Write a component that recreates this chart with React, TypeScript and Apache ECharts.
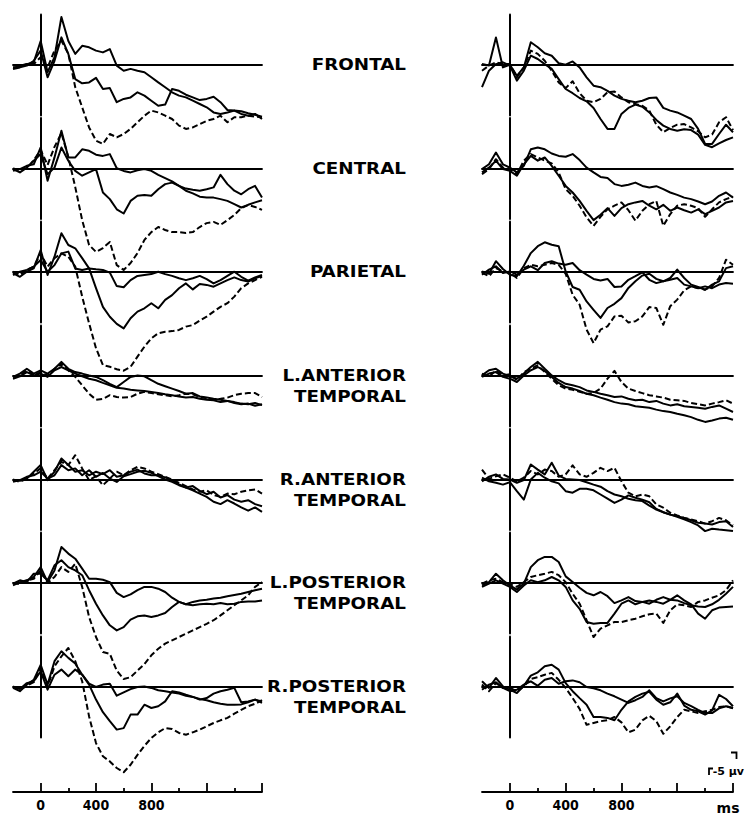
import React, { useEffect, useRef } from "react";
import * as echarts from "echarts";

// ---- time axis (ms) ----
const TIMES = [-200, -150, -100, -50, 0, 50, 100, 150, 200, 250, 300, 350, 400, 450, 500, 550, 600, 650, 700, 750, 800, 850, 900, 950, 1000, 1050, 1100, 1150, 1200, 1250, 1300, 1350, 1400, 1450, 1500, 1550, 1600];
const X_MAJOR_TICKS = [0, 400, 800, 1200, 1600];
const X_MINOR_TICKS = [200, 600, 1000, 1400];
const X_TICK_LABELS = [0, 400, 800];

const REGION_LABELS = [
  ["FRONTAL"],
  ["CENTRAL"],
  ["PARIETAL"],
  ["L.ANTERIOR", "TEMPORAL"],
  ["R.ANTERIOR", "TEMPORAL"],
  ["L.POSTERIOR", "TEMPORAL"],
  ["R.POSTERIOR", "TEMPORAL"],
];

// ---- amplitudes in µV (negative plotted up) : left column ----
const FRONTAL_L_S1 = [0.8, 0.5, -0.3, -0.9, -8, 2.4, -2.6, -16, -8, -3.7, -6.4, -5.9, -4.8, -4.2, -5.3, 0.2, 1.9, 1.3, 1.9, 2.4, 4.1, 5.8, 7.4, 9.1, 10.2, 10.8, 11.9, 13, 14.1, 15.8, 16.3, 15.8, 15.2, 16.3, 16.9, 16.3, 18];
const FRONTAL_L_S2 = [1.3, 0.8, 0.2, -1.4, -4.8, 4.1, -1.4, -9.2, -3.7, 4.7, 6.1, 5.8, 4.3, 8, 7.7, 12.4, 11.3, 10.8, 9.1, 10.2, 11.9, 13.6, 13.2, 8, 8.6, 9.9, 10.8, 11.7, 11.3, 10.6, 12.4, 15, 15.2, 15.4, 16.1, 16.6, 17.2];
const FRONTAL_L_D = [0.2, 0.2, -0.3, -0.3, -2.6, 0.8, -4.8, -8.1, -3.7, 7.4, 14.1, 20.8, 25.2, 26.3, 23, 24.1, 23, 21.3, 19.1, 16.9, 15.2, 15.8, 16.9, 18, 20.2, 21.3, 20.8, 19.7, 18.6, 18, 16.9, 19.1, 17.4, 17.4, 16.9, 17.2, 17.4];

const CENTRAL_L_S1 = [0.8, 0.2, -0.9, -1.4, -7, 4.1, -3.7, -12.6, -3.7, -3.7, -6.4, -5.9, -4.6, -4.2, -4.8, -0.1, 0.8, 1.3, 0.6, 0.2, 0.8, 2.1, 3.2, 4.3, 5.8, 6.7, 7.1, 7.4, 6.9, 6.3, 2.1, 5.2, 7.4, 8.6, 6.9, 5.8, 9.7];
const CENTRAL_L_S2 = [0.2, 1.3, -0.3, -2.6, -4.8, 1.9, -0.3, -7, -2.6, 0.8, 2.4, 1.3, 0.2, 8, 10.2, 13.6, 15, 10.8, 9.1, 8.8, 9.1, 6.9, 5.2, 4.7, 5.8, 7.4, 8.3, 9.4, 9.7, 9.7, 10.2, 10.8, 11.9, 13, 12.1, 11.3, 10.6];
const CENTRAL_L_D = [0, 0.5, 0, -2.8, -6.2, -1.2, -7.2, -11.8, -3.8, 6.2, 17.2, 25.5, 27.8, 26.5, 24.5, 32.2, 33.8, 31.5, 28.2, 23.8, 21.2, 19.5, 20.5, 21.2, 21.2, 21.5, 21.2, 19.5, 18.2, 17.8, 18.8, 17.2, 15.5, 13.2, 12.2, 12.8, 13.8];

const PARIETAL_L_S1 = [1, -0.1, -0.7, -1.8, -4, -0.1, -2.3, -6.2, -6.8, -1.2, -0.7, -1.2, -0.9, -0.7, 0.2, 4.7, 5.1, 2.7, 1.3, 1, 0.7, -0.1, 0.7, 1.3, 2.1, 2.7, 2.1, 1.3, 2.4, 3.8, 2.7, 1.3, -0.1, 1.6, 2.9, 1.8, 1];
const PARIETAL_L_S2 = [0.4, 1.6, -0.1, -1.2, -7.3, 1, -5.1, -12.9, -9, -7.9, -4.6, -1.2, 5.4, 11.6, 14.9, 17.3, 18.8, 15.4, 13.2, 12.1, 10.4, 12.1, 9.3, 7.7, 5.4, 3.8, 5.8, 4, 4.3, 4.9, 3.8, 2.7, 1.8, 2.7, 3.2, 2.1, 1.3];
const PARIETAL_L_D = [-0.1, 1, -0.7, -1.8, -6.2, -1.8, -4.6, -6.2, -5.1, -1.8, 8.2, 17.1, 25.4, 31, 31.6, 32.4, 32.9, 31.6, 28.2, 24.9, 22.1, 20.4, 19.9, 19.7, 19.3, 18.2, 17.7, 16.2, 14.9, 13.2, 11.6, 10.4, 8.2, 5.4, 3.8, 2.7, 1.6];

const LANT_L_S1 = [0.3, -0.8, -2.4, -0.8, -1.9, -0.8, -2.4, -4.7, -2.4, -1.3, -0.8, -0.2, 0.3, 1.4, 2.6, 3.7, 2, 0.3, -0.2, 0.1, 1.4, 2.6, 3.4, 4.2, 5, 5.9, 5.7, 6.8, 7.2, 7.6, 7.9, 8.3, 8.7, 9.2, 9.4, 9, 9.7];
const LANT_L_S2 = [0.9, 0.1, -1.3, -0.2, -0.8, 0.3, -1.9, -3, -1.9, -0.8, 0.1, 0.9, 1.4, 2.3, 3.1, 3.9, 4.2, 4.6, 4.8, 5, 5.3, 5.7, 6.1, 6.4, 6.8, 7.2, 7, 7.6, 7.9, 8.1, 8.7, 8.3, 9, 9.4, 9.2, 9.9, 9.4];
const LANT_L_D = [0.3, -0.2, -1.9, -0.2, -1.3, -0.2, -2.4, -4.1, -1.9, 0.3, 3.1, 5.9, 7.9, 7.6, 6.4, 7, 7.2, 7, 5.9, 5.3, 5.7, 6.1, 6.4, 6.8, 6.4, 5.9, 6.1, 7, 7.4, 7.9, 7.6, 7.2, 6.4, 5.9, 5.7, 5.7, 7];

const RANT_L_S1 = [0.2, 0.4, -0.3, -2.6, -4.8, 0.2, -2.6, -7, -4.8, -2.6, -3.1, -1.4, -2.6, -1.8, -3.1, -0.9, -1.4, -2.6, -3.3, -2, -1.4, -1.4, -0.7, 0.2, 1.6, 2.7, 3.6, 4.7, 5.8, 7.4, 8.2, 6.9, 8, 9.3, 10.4, 9.3, 10.8];
const RANT_L_S2 = [0.8, 0.2, -0.9, -1.4, -2.6, -0.3, -1.4, -4.8, -3.1, -3.7, -1.4, -3.1, -0.9, -2.2, -0.3, 0.8, -1.1, -1.8, -2.6, -2.9, -2.2, -1.1, 0, 0.8, 1.9, 2.7, 2.2, 3.8, 4.9, 4.1, 6, 5.2, 6.7, 7.4, 6.9, 8.2, 8.9];
const RANT_L_D = [0, 0.8, -0.3, -2, -3.7, -0.3, -3.1, -5.9, -4.8, -8.1, -3.7, 0.2, -1.1, 1.9, -0.3, -2.6, -1.4, -3.1, -4.2, -3.7, -2.6, -1.8, -0.9, 0, 1.1, 2.2, 3.3, 4.1, 3.6, 5.2, 5.8, 4.7, 4.9, 4.1, 3.6, 3.3, 4.7];

const LPOST_L_S1 = [0.8, -0.3, -0.9, -2, -5.3, -0.3, -4.2, -12, -9.8, -8.1, -4.8, -1.4, -1.4, -1.1, -0.3, 3.3, 4.7, 3.8, 2.4, 1.3, 1.3, 1.9, 3, 4.9, 6.3, 7.1, 6.3, 5.8, 5.6, 5.2, 4.9, 4.4, 4, 3.6, 3, 2.4, 1.9];
const LPOST_L_S2 = [0.2, -0.9, -0.3, -3.1, -3.1, -0.9, -5.9, -7.6, -5.3, -4.2, -2.6, 2.4, 6.9, 10.8, 14.1, 15.8, 14.7, 12.2, 11.1, 10.8, 11.3, 10.8, 10, 8, 6.3, 7.1, 7.4, 7.1, 6.9, 7.1, 6.7, 7.1, 6.9, 6.3, 6.2, 6.2, 5.8];
const LPOST_L_D = [0, 0.4, -0.9, -1.4, -4.2, 0, -2, -5.3, -3.7, -6.4, 1.3, 11.3, 18, 23, 23.6, 29.2, 32, 31.4, 29.2, 27, 24.1, 21.9, 20.2, 19.1, 18, 16.9, 15.8, 14.7, 13.6, 12.4, 10.8, 9.1, 7.4, 5.8, 4.1, 1.3, -0.3];

const RPOST_L_S1 = [0.3, 1.4, -0.8, -2.4, -7.4, -0.8, -8.6, -11.9, -9.7, -7.8, -4.1, -1.1, 0, -0.8, -1.1, 2.9, 1.8, 0.7, 0, -0.2, 0.3, 1.1, 1.4, 1.8, 2.2, 2.9, 3.3, 4, 4.4, 5.1, 5.6, 5.9, 5.9, 5.8, 5.1, 4.2, 5.3];
const RPOST_L_S2 = [0, 0.7, -1.3, -1.9, -5.2, 0.9, -4.1, -5.8, -3.6, -5.8, -4.1, -0.8, 4.2, 8.4, 11.4, 14.2, 13.7, 9.2, 9.2, 5.9, 7, 6.4, 4.8, 1.4, 1.8, 2.6, 3.3, 4.2, 3.7, 2.2, 1.4, 0.9, 0.3, 5.1, 4.8, 4.2, 4.8];
const RPOST_L_D = [-0.2, 0.9, -0.4, -1.6, -6.3, -0.2, -6.9, -10.2, -13, -8.6, -1.9, 9.8, 18.7, 23.1, 24.8, 27, 28.4, 25.9, 22.6, 19.6, 17, 15.1, 13.7, 14, 15.3, 15.9, 15.1, 14.2, 13.1, 12, 11.1, 10.3, 8.9, 7.6, 6.4, 5.6, 4.4];

// ---- right column ----
const FRONTAL_R_S1 = [-0.3, 0.2, -9.2, 0.8, -0.1, 3.6, 0.8, -7.6, -5.9, -3.9, -3.1, -0.6, -0.1, -1.2, 0.8, 4.1, 6.9, 7.4, 8.6, 10.2, 11.3, 11.9, 12.4, 11.9, 11, 10.8, 14.3, 15.2, 15.8, 16.9, 18, 21.3, 26.3, 26.3, 23, 19.9, 22.4];
const FRONTAL_R_S2 = [7.4, 1.9, -0.3, -0.9, 0.2, 5.2, 1.9, -3.1, -2, -0.3, 1.3, 4.7, 8, 9.4, 11, 12.1, 14.3, 18, 21.3, 21.3, 16.3, 14.3, 13.2, 13.9, 15.8, 18.3, 20.2, 21.3, 21.9, 21.4, 21.7, 23.2, 26.6, 27.4, 26.1, 25, 24.1];
const FRONTAL_R_D = [1.9, 0.2, -0.9, -0.3, -0.3, 4.1, 0.8, -4.8, -3.7, -1.4, 1.9, 5.8, 7.7, 5.4, 9.4, 11.9, 12.4, 11.3, 9.1, 8.8, 10.8, 12.4, 13, 13.6, 15.2, 19.9, 22.4, 21, 19.9, 19.7, 20.8, 22.1, 24.1, 23.2, 19.1, 17.4, 21.7];

const CENTRAL_R_S1 = [0.2, -1.4, -5.3, -1.4, -0.3, 1.3, -0.9, -6.4, -7, -6.4, -5, -4.2, -3.9, -4.8, -2.8, -0.3, 1.3, 2.8, 3.2, 5.2, 5.8, 5.4, 4.7, 5.8, 6.3, 5.9, 6.9, 8, 8.8, 9.7, 10.2, 11, 11.9, 11, 9.1, 8, 9.7];
const CENTRAL_R_S2 = [1.3, -0.3, -2.6, 0.2, 0.8, 2.4, -1.4, -4.2, -2.6, -3.7, -0.9, 2.4, 5.8, 8, 10.8, 14.1, 17.2, 15.4, 13.2, 15.8, 13.2, 11.9, 11.3, 10.8, 12.4, 13.6, 12.1, 14.1, 13, 13.9, 14.7, 13.6, 15.2, 14.1, 13, 11.3, 10.8];
const CENTRAL_R_D = [1.9, 0.2, -3.1, -0.3, 0.2, 1.9, -2.6, -4.8, -3.7, -2.6, -1.7, 1.3, 6.9, 9.1, 12.4, 16.3, 19.1, 16.1, 13.6, 12.4, 11.3, 13.9, 17.4, 14.1, 11.9, 10.8, 19.1, 15.2, 12.4, 11.9, 12.4, 13.2, 16.1, 13.6, 11.3, 10.2, 9.4];

const PARIETAL_R_S1 = [-0.2, 0.6, -3.6, -1, 0.9, 1.4, -2.1, -6.3, -8.6, -9.9, -9.1, -8.6, -0.2, 5, 5.9, 9.8, 12.6, 15.3, 12, 10.6, 8.7, 5.3, 3.1, 1.2, 0.6, 2.3, 3.1, 2, -0.8, 2, 4.2, 5, 5.9, 4.2, 3.1, -1.3, -1.9];
const PARIETAL_R_S2 = [0.9, -0.8, -1.9, 0.3, -0.2, 0.9, -0.8, -1.9, -0.6, -3, -3.6, -2.8, -2.4, -3, -0.6, 0.9, 2.3, 2.8, 2.3, 5, 4.8, 2.6, 1.4, 0.1, 2.6, 3.7, 3.1, 2.6, 2, 4.2, 4.8, 5.4, 4.8, 5.4, 4.2, 3.7, 3.9];
const PARIETAL_R_D = [0.3, 1.4, -1.3, -0.2, 0.3, 2, -1.3, -2.4, -1.9, -2.4, -3, -2.4, 0.6, 7.6, 10.9, 19.2, 23.7, 19.2, 18.1, 14.8, 14.6, 16.8, 16.4, 14.8, 11.7, 12, 17.6, 11.4, 9.2, 6.1, 4.8, 5.3, 5.9, 4.8, 2, -4.1, -2.4];

const LANT_R_S1 = [-0.2, -1.9, -2.4, -0.8, 0.1, 0.9, -0.8, -3, -4.7, -2.4, -0.2, 1.4, 2.6, 3.1, 3.7, 4.8, 5.3, 5.9, 6.4, 7, 6.8, 7.6, 8.1, 7.9, 8.7, 8.3, 9.2, 9.8, 9.4, 10.1, 10.3, 10.6, 10.9, 10.3, 9.8, 10.9, 12];
const LANT_R_S2 = [0.3, -0.8, -1.3, 0.3, 0.9, 2, -0.2, -1.9, -3, -1.7, 0.3, 2.3, 3.7, 4.2, 5, 5.9, 6.4, 7.2, 7.9, 8.7, 9.2, 9.4, 10.1, 10.3, 10.6, 11.2, 11.7, 12, 12.6, 13.1, 13.7, 14.6, 15.3, 14.8, 14.2, 13.9, 14.6];
const LANT_R_D = [-0.8, 0.3, -1.9, -0.2, -0.6, 1.4, -1.3, -2.4, -3.6, -1.3, 0.9, 3.1, 4.2, 4.6, 5.3, 5.9, 5.7, 4.2, 0.9, -1.7, 2, 4.2, 5, 5.7, 6.4, 6.8, 7.2, 7.9, 8.1, 8.3, 9, 9.4, 9.8, 9.2, 8.7, 8.1, 9.2];

const RANT_R_S1 = [-0.6, 0.6, 1.1, 1.7, 0.9, 3.9, 6.7, 0, -2.2, -0.6, 0.6, 1.3, 3.9, 4.4, 3.1, 3.1, 3.6, 5, 6.4, 7.8, 6.7, 5.3, 6.1, 6.7, 7.6, 9.8, 10.9, 11.7, 12.4, 13.3, 14.2, 15.3, 17.2, 16.4, 16.7, 16.9, 17.2];
const RANT_R_S2 = [0.6, -0.9, -1.7, -0.2, 0, 1.1, 0.2, -5, -3.3, -1.7, -5.6, -1.3, -0.2, 0, 0.2, 0.9, 1.7, 2.4, 3.9, 5, 5.6, 6.4, 6.9, 7.2, 8.7, 10, 10.9, 11.7, 12.2, 12.8, 13.6, 14.4, 14.7, 15, 14.2, 13.9, 15.8];
const RANT_R_D = [-3.3, -0.2, -1.1, -1.7, -0.6, 0.6, -0.6, -2.8, -1.7, -3.3, -2.8, -0.9, -1.7, -4.7, -1.7, -0.9, -2.2, -3.9, -2.8, -3.9, 0.6, 4.4, 5.6, 5, 5.6, 8.3, 9.4, 11.1, 12, 12.8, 13.3, 13.9, 14.7, 13.9, 12.8, 13.6, 15.3];

const LPOST_R_S1 = [0.8, -0.3, -3.1, -0.9, 0.8, 2.2, 0.2, -5.3, -7.6, -8.7, -8.7, -7, -2.2, -0.3, 1.6, 3.3, 4.1, 3, 4.4, 6.7, 5.8, 4.7, 6, 6.3, 6.9, 5.6, 4.7, 5.6, 5.8, 6.7, 7.4, 7.8, 8, 7.1, 5.6, 3.6, 1.3];
const LPOST_R_S2 = [1.3, 0.2, -0.9, 0.2, 1.3, 3, 0.8, -0.9, -0.3, -0.9, -2, -0.9, 1.3, 5.8, 8.6, 13, 13.6, 13.3, 13.3, 10.2, 6.9, 5.8, 7.1, 6.3, 5.8, 6.3, 6.9, 5.6, 4.1, 5.8, 7.1, 10.2, 11.9, 9.1, 8.2, 8, 7.8];
const LPOST_R_D = [0.2, -0.9, -1.4, -0.3, 0.4, 1.3, -0.3, -2, -2.6, -3.1, -3.7, -2.6, -0.3, 3.6, 6.9, 12.4, 18, 15.2, 14.1, 13, 13, 12.4, 11.9, 11.1, 10.4, 10.2, 13.3, 9.1, 7.1, 7.4, 8, 6.3, 5.8, 4.9, 4.1, 2.4, -0.9];

const RPOST_R_S1 = [-1.9, 0.3, -3, -0.2, 0.9, 2, -0.4, -3.8, -4.9, -6.9, -7.4, -5.8, -1.3, 1.4, 3.7, 5.9, 10, 10, 10.3, 11.1, 7.6, 4.8, 3.3, 2.2, 1.6, 4.2, 5.9, 5.1, 2.2, 6.2, 7.6, 8.1, 9.2, 7.8, 2.6, 4, 6.4];
const RPOST_R_S2 = [0.9, -0.8, -1.6, 0.3, 1.4, 0.9, -0.8, -1.9, -0.4, -2.4, -3, -1.1, -1.9, -2.2, -1.6, 0, 0.4, 1.1, 2.2, 3.1, 4.2, 5.3, 4.4, 3.3, 1.1, 3.7, 4.8, 3.8, 3.1, 5.3, 6.4, 7.6, 8.7, 8.7, 7.1, 6.4, 7.1];
const RPOST_R_D = [-0.8, 1.4, -1.3, 0.3, 0.3, 1.4, -0.2, -2.7, -3.3, -4.1, -4.7, -2.4, 0.3, 3.7, 7.3, 12.6, 12, 11.4, 11.1, 10, 11.8, 15.1, 14.2, 11.1, 9.6, 11.4, 15.6, 13.1, 10, 7.6, 8.1, 8.7, 8.1, 7.6, 6.7, 6.4, 7];

const LEFT_PANELS = [
  [FRONTAL_L_S1, FRONTAL_L_S2, FRONTAL_L_D],
  [CENTRAL_L_S1, CENTRAL_L_S2, CENTRAL_L_D],
  [PARIETAL_L_S1, PARIETAL_L_S2, PARIETAL_L_D],
  [LANT_L_S1, LANT_L_S2, LANT_L_D],
  [RANT_L_S1, RANT_L_S2, RANT_L_D],
  [LPOST_L_S1, LPOST_L_S2, LPOST_L_D],
  [RPOST_L_S1, RPOST_L_S2, RPOST_L_D],
];
const RIGHT_PANELS = [
  [FRONTAL_R_S1, FRONTAL_R_S2, FRONTAL_R_D],
  [CENTRAL_R_S1, CENTRAL_R_S2, CENTRAL_R_D],
  [PARIETAL_R_S1, PARIETAL_R_S2, PARIETAL_R_D],
  [LANT_R_S1, LANT_R_S2, LANT_R_D],
  [RANT_R_S1, RANT_R_S2, RANT_R_D],
  [LPOST_R_S1, LPOST_R_S2, LPOST_R_D],
  [RPOST_R_S1, RPOST_R_S2, RPOST_R_D],
];

// ---- layout ----
const BASELINES = [65, 168.5, 272, 376, 479.5, 583, 687];
const COLS = [
  { left: 13, width: 249 },
  { left: 482, width: 251 },
];
const PANEL_H = 101;
const Y_HALF = 16.83; // µV half-range -> 3 px per µV
const LABEL_FONT = 'bold 15px "DejaVu Sans", sans-serif';
const TICK_FONT = '"Liberation Sans Narrow", "DejaVu Sans Condensed", "Roboto Condensed", sans-serif';

function buildOption() {
  const grid: any[] = [];
  const xAxis: any[] = [];
  const yAxis: any[] = [];
  const series: any[] = [];
  const black = "#000";

  const columns = [LEFT_PANELS, RIGHT_PANELS];
  let idx = 0;
  columns.forEach((panels, c) => {
    panels.forEach((traces, r) => {
      const b = BASELINES[r];
      grid.push({ left: COLS[c].left, width: COLS[c].width, top: b - PANEL_H / 2, height: PANEL_H, containLabel: false });
      xAxis.push({
        gridIndex: idx,
        type: "value",
        min: -200,
        max: 1600,
        axisLine: { show: true, onZero: true, lineStyle: { color: black, width: 1.8 } },
        axisTick: { show: false },
        axisLabel: { show: false },
        splitLine: { show: false },
      });
      yAxis.push({
        gridIndex: idx,
        type: "value",
        inverse: true,
        min: -Y_HALF,
        max: Y_HALF,
        axisLine: { show: true, onZero: true, lineStyle: { color: black, width: 2 } },
        axisTick: { show: false },
        axisLabel: { show: false },
        splitLine: { show: false },
      });
      traces.forEach((arr, k) => {
        series.push({
          type: "line",
          xAxisIndex: idx,
          yAxisIndex: idx,
          data: TIMES.map((t, i) => [t, arr[i]]),
          showSymbol: false,
          symbol: "none",
          clip: false,
          silent: true,
          lineStyle: { color: black, width: 2, type: k === 2 ? [6, 3] : "solid", join: "round" },
          z: 3,
        });
      });
      idx++;
    });
  });

  // bottom time axes
  COLS.forEach((col) => {
    const g = grid.length;
    grid.push({ left: col.left, width: col.width, top: 742, height: 50 });
    xAxis.push({
      gridIndex: g,
      type: "value",
      position: "bottom",
      min: -200,
      max: 1600,
      axisLine: { show: true, onZero: false, lineStyle: { color: black, width: 1.8 } },
      axisTick: { show: true, inside: true, length: 9, customValues: X_MAJOR_TICKS, lineStyle: { color: black, width: 1.8 } },
      axisLabel: {
        show: true,
        customValues: X_TICK_LABELS,
        margin: 6,
        color: black,
        fontFamily: TICK_FONT,
        fontWeight: "bold",
        fontSize: 14,
      },
      splitLine: { show: false },
    });
    xAxis.push({
      gridIndex: g,
      type: "value",
      position: "bottom",
      min: -200,
      max: 1600,
      axisLine: { show: false, onZero: false },
      axisTick: { show: true, inside: true, length: 4, customValues: X_MINOR_TICKS, lineStyle: { color: black, width: 1.8 } },
      axisLabel: { show: false },
      splitLine: { show: false },
    });
    yAxis.push({ gridIndex: g, type: "value", show: false, min: 0, max: 1 });
  });

  const graphic: any[] = [];
  REGION_LABELS.forEach((lines, r) => {
    lines.forEach((txt, k) => {
      graphic.push({
        type: "text",
        x: 406,
        y: BASELINES[r] + k * 21,
        scaleX: 1.22,
        silent: true,
        style: { text: txt, font: LABEL_FONT, fill: black, align: "right", verticalAlign: "middle" },
      });
    });
  });
  // calibration marks
  graphic.push({
    type: "polyline",
    silent: true,
    shape: { points: [[731, 752.5], [736.5, 752.5], [736.5, 759]] },
    style: { stroke: black, lineWidth: 1.8, fill: null },
  });
  graphic.push({
    type: "polyline",
    silent: true,
    shape: { points: [[709, 775], [709, 768.5], [713, 768.5]] },
    style: { stroke: black, lineWidth: 1.8, fill: null },
  });
  graphic.push({
    type: "text",
    x: 744,
    y: 771,
    silent: true,
    style: { text: "-5 μv", font: 'bold 11px "DejaVu Sans", sans-serif', fill: black, align: "right", verticalAlign: "middle" },
  });
  graphic.push({
    type: "text",
    x: 728,
    y: 808,
    silent: true,
    style: { text: "ms", font: 'bold 14px "DejaVu Sans", sans-serif', fill: black, align: "center", verticalAlign: "middle" },
  });

  return {
    animation: false,
    backgroundColor: "#fff",
    grid,
    xAxis,
    yAxis,
    series,
    graphic,
  };
}

export default function App() {
  const ref = useRef<HTMLDivElement>(null);
  useEffect(() => {
    if (!ref.current) return;
    const chart = echarts.init(ref.current, undefined, { renderer: "svg" });
    chart.setOption(buildOption() as any);
    return () => chart.dispose();
  }, []);
  return (
    <div
      ref={ref}
      style={{ position: "absolute", left: 0, top: 0, width: 748, height: 819, background: "#fff" }}
    />
  );
}
